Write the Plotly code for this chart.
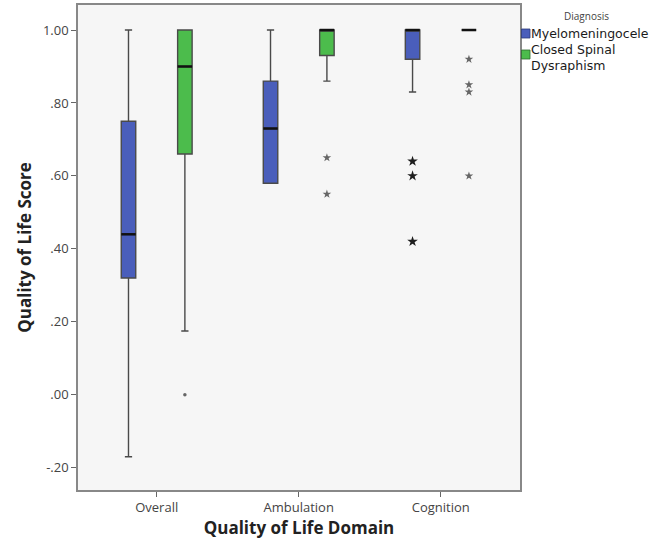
import plotly.graph_objects as go

categories = ["Overall", "Ambulation", "Cognition"]
diagnoses = ["Myelomeningocele", "Closed Spinal<br>Dysraphism"]
legend_title = "Diagnosis"

mmc_low = [-0.17, 0.58, 0.83]
mmc_q1 = [0.32, 0.58, 0.92]
mmc_median = [0.44, 0.73, 1.00]
mmc_q3 = [0.75, 0.86, 1.00]
mmc_high = [1.00, 1.00, 1.00]

csd_low = [0.175, 0.86, 1.00]
csd_q1 = [0.66, 0.93, 1.00]
csd_median = [0.90, 1.00, 1.00]
csd_q3 = [1.00, 1.00, 1.00]
csd_high = [1.00, 1.00, 1.00]

mmc_extreme_cat = ["Cognition", "Cognition", "Cognition"]
mmc_extreme_val = [0.64, 0.60, 0.42]
csd_extreme_cat = ["Ambulation", "Ambulation", "Cognition", "Cognition", "Cognition", "Cognition"]
csd_extreme_val = [0.65, 0.55, 0.92, 0.85, 0.83, 0.60]
csd_mild_cat = ["Overall"]
csd_mild_val = [0.00]

y_tick_vals = [-0.20, 0.00, 0.20, 0.40, 0.60, 0.80, 1.00]
y_tick_text = ["-.20", ".00", ".20", ".40", ".60", ".80", "1.00"]

# ---- styling / layout constants ----
W, H = 651, 540
ML, MR, MT, MB = 78, 131, 5, 50
OFFSET = 0.1985
WIDTH = 0.102
BLUE = "#4a5ebb"
GREEN = "#4cbc4c"
FONT = "Open Sans"
LEGEND_FONT = "DejaVu Sans"

PW = W - ML - MR
PH = H - MT - MB


def px_x(px):
    return (px - ML) / PW


def px_y(py):
    return (H - MB - py) / PH


idx = {c: i for i, c in enumerate(categories)}

fig = go.Figure()

groups = [
    (diagnoses[0], -OFFSET, BLUE, "#2c3a7a", mmc_low, mmc_q1, mmc_median, mmc_q3, mmc_high),
    (diagnoses[1], OFFSET, GREEN, "#2f6a2f", csd_low, csd_q1, csd_median, csd_q3, csd_high),
]
for name, off, col, edge, lo, q1, med, q3, hi in groups:
    xs = [idx[c] + off for c in categories]
    fig.add_trace(go.Box(
        name=name, x=xs, q1=q1, median=med, q3=q3,
        lowerfence=lo, upperfence=hi, width=WIDTH,
        fillcolor=col, line=dict(color="#4a4a4a", width=1.4),
        whiskerwidth=0.5, boxpoints=False, showlegend=False,
        hoverinfo="skip",
    ))
    mx, my = [], []
    for x, m in zip(xs, med):
        mx += [x - WIDTH / 2, x + WIDTH / 2, None]
        my += [m, m, None]
    fig.add_trace(go.Scatter(x=mx, y=my, mode="lines",
                             line=dict(color="#111111", width=2.5),
                             showlegend=False, hoverinfo="skip"))

fig.add_trace(go.Scatter(
    x=[idx[c] - OFFSET for c in mmc_extreme_cat], y=mmc_extreme_val,
    mode="markers", marker=dict(symbol="star", size=8, color="#1e1e1e"),
    showlegend=False, hoverinfo="skip"))
fig.add_trace(go.Scatter(
    x=[idx[c] + OFFSET for c in csd_extreme_cat], y=csd_extreme_val,
    mode="markers", marker=dict(symbol="star", size=6.5, color="#666666"),
    showlegend=False, hoverinfo="skip"))
fig.add_trace(go.Scatter(
    x=[idx[c] + OFFSET for c in csd_mild_cat], y=csd_mild_val,
    mode="markers", marker=dict(symbol="circle", size=3.5, color="#666666"),
    showlegend=False, hoverinfo="skip"))

# ---- manual legend (SPSS style) ----
shapes = []
annotations = [dict(
    text=legend_title, xref="paper", yref="paper", x=px_x(586), y=px_y(16),
    xanchor="center", yanchor="middle", showarrow=False,
    font=dict(size=10, color="#444444", family=FONT),
)]
swatch_tops = [29, 50]
label_centers = [33, 58]
for (name, off, col, edge, *_), top, yc in zip(groups, swatch_tops, label_centers):
    shapes.append(dict(
        type="rect", xref="paper", yref="paper",
        x0=px_x(521.5), x1=px_x(530), y0=px_y(top), y1=px_y(top + 9),
        fillcolor=col, line=dict(color=edge, width=0.8),
    ))
    annotations.append(dict(
        text=name, xref="paper", yref="paper", x=px_x(529), y=px_y(yc),
        xanchor="left", yanchor="middle", align="left", showarrow=False,
        font=dict(size=12.5, color="#1a1a1a", family=LEGEND_FONT),
    ))

fig.update_layout(
    width=W, height=H,
    margin=dict(l=ML, r=MR, t=MT, b=MB, autoexpand=False),
    paper_bgcolor="white", plot_bgcolor="#f6f6f6",
    font=dict(family=FONT, color="#333333", size=13),
    showlegend=False,
    shapes=shapes, annotations=annotations,
)
fig.update_xaxes(
    range=[-0.554, 2.558], tickvals=list(range(len(categories))), ticktext=categories,
    ticks="outside", ticklen=5, tickcolor="#666666", tickfont=dict(size=13, color="#444444"),
    showgrid=False, zeroline=False, showline=True, linecolor="#888888", linewidth=1.5, mirror=True,
    title=dict(text="<b>Quality of Life Domain</b>", font=dict(size=17, color="#222222"), standoff=7),
)
fig.update_yaxes(
    range=[-0.261, 1.0686], tickvals=y_tick_vals, ticktext=y_tick_text,
    ticks="outside", ticklen=5, tickcolor="#666666", tickfont=dict(size=13, color="#444444"),
    showgrid=False, zeroline=False, showline=True, linecolor="#888888", linewidth=1.5, mirror=True,
    title=dict(text="<b>Quality of Life Score</b>", font=dict(size=17, color="#222222"), standoff=7),
)

fig.write_html("out.html")
